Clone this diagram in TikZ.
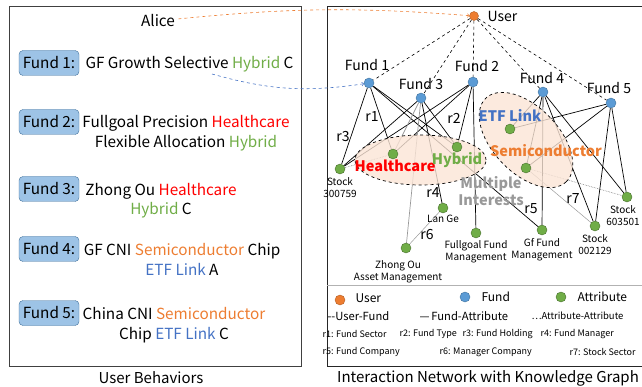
\documentclass[tikz,border=0pt]{standalone}
\usepackage{fontspec}
\setmainfont{Noto Sans CJK SC}
\usetikzlibrary{positioning}

\definecolor{usrorange}{HTML}{ED7D31}
\definecolor{fundblue}{HTML}{5B9BD5}
\definecolor{attrgreen}{HTML}{70AD47}
\definecolor{tagblue}{HTML}{9DC3E6}
\definecolor{tagedge}{HTML}{41719C}
\definecolor{linkblue}{HTML}{4472C4}
\definecolor{peach}{HTML}{FBE5D6}

% coloured key words
\newcommand{\hyw}{\textcolor{attrgreen}{Hybrid}}
\newcommand{\hcw}{\textcolor{red}{Healthcare}}
\newcommand{\scw}{\textcolor{usrorange}{Semiconductor}}
\newcommand{\etfw}{\textcolor{linkblue}{ETF Link}}

\pgfdeclarelayer{edges}
\pgfdeclarelayer{blobs}
\pgfsetlayers{edges,blobs,main}

\begin{document}
\begin{tikzpicture}[x=1pt, y=-1pt,
  bigtxt/.style={font=\fontsize{15.3}{19.5}\selectfont},
  midtxt/.style={font=\fontsize{14}{16}\selectfont},
  keytxt/.style={font=\fontsize{12}{15}\selectfont},
  pairtxt/.style={font=\fontsize{11.2}{14}\selectfont},
  smalltxt/.style={font=\fontsize{10}{12}\selectfont},
  reltxt/.style={font=\fontsize{9}{11}\selectfont},
  grptxt/.style={font=\fontsize{14.5}{17}\selectfont\bfseries},
  fundtag/.style={draw=tagedge, fill=tagblue, rounded corners=4pt, minimum width=60pt, minimum height=25pt, inner sep=1pt, bigtxt},
  userdot/.style={circle, draw=usrorange!75!black, fill=usrorange, minimum size=9pt, inner sep=0pt},
  funddot/.style={circle, draw=tagedge, fill=fundblue, minimum size=10pt, inner sep=0pt},
  attrdot/.style={circle, draw=attrgreen!65!black, fill=attrgreen, minimum size=10pt, inner sep=0pt},
  uf/.style={dashed, line width=0.6pt},
  fa/.style={line width=0.7pt},
  fagray/.style={line width=0.7pt, black!40},
  aa/.style={densely dotted, line width=0.6pt, black!55},
  interest/.style={draw, dashed, line width=0.7pt, fill=peach, fill opacity=0.8},
]
\useasboundingbox (0,0) rectangle (642,387);
\clip (0,0) rectangle (642,387);

% frames
\draw[black!75, line width=0.8pt] (9,6) rectangle (301,366);
\draw[black!85, line width=0.8pt] (327,6) rectangle (662,366);
\draw[black!30, line width=0.6pt] (327,285) -- (662,285);
\node[font=\fontsize{15}{18}\selectfont] (capl) at (151,378) {User Behaviors};
\node[font=\fontsize{15}{18}\selectfont] (capr) at (488,378) {Interaction Network with Knowledge Graph};

% user behaviors
\node[bigtxt] (alice) at (158,21) {Alice};
\foreach \i/\y in {1/63, 2/122, 3/189, 4/249, 5/313}
  \node[fundtag] (tag\i) at (49,\y) {Fund \i:};
\node[bigtxt, anchor=base west] (txt1) at (82,68.5) {GF Growth Selective \hyw{} C};
\node[bigtxt, align=center, anchor=base] (txt2) at (186,147.5) {Fullgoal Precision \hcw\\Flexible Allocation \hyw};
\node[bigtxt, align=center, anchor=base] (txt3) at (161,215) {Zhong Ou \hcw\\\hyw{} C};
\node[bigtxt, align=center, anchor=base] (txt4) at (182,275) {GF CNI \scw{} Chip\\\etfw{} A};
\node[bigtxt, align=center, anchor=base] (txt5) at (174,339) {China CNI \scw\\Chip \etfw{} C};
\coordinate (hyb1) at (212,74);

% user and funds
\node[userdot] (user) at (474,16) {};
\node[midtxt, anchor=west] (luser) at (484,16) {User};
\node[funddot] (f1) at (369,83) {};
\node[funddot] (f3) at (421,98) {};
\node[funddot] (f2) at (473,82) {};
\node[funddot] (f4) at (543,92) {};
\node[funddot] (f5) at (611,103) {};
\node[midtxt] (lf1) at (367,65) {Fund 1};
\node[midtxt] (lf3) at (421,84) {Fund 3};
\node[midtxt] (lf2) at (477,66) {Fund 2};
\node[midtxt] (lf4) at (542,78) {Fund 4};
\node[midtxt] (lf5) at (609,88) {Fund 5};

% attributes
\node[attrdot] (health) at (393,154) {};
\node[attrdot] (hybrid) at (457,147) {};
\node[attrdot] (st759) at (340,169) {};
\node[attrdot] (etf) at (510,129) {};
\node[attrdot] (semi) at (526,168) {};
\node[attrdot] (st501) at (627,197) {};
\node[attrdot] (lange) at (443,208) {};
\node[attrdot] (zhongou) at (406,248) {};
\node[attrdot] (fullgoal) at (476,233) {};
\node[attrdot] (gffund) at (542,230) {};
\node[attrdot] (st129) at (595,226) {};
\node[smalltxt, align=center, anchor=north] (lst759) at (340,174) {Stock\\300759};
\node[smalltxt, align=center, anchor=north] (lst501) at (623,202) {Stock\\603501};
\node[smalltxt, align=center, anchor=north] (lst129) at (595,231) {Stock\\002129};
\node[smalltxt, anchor=north] (llange) at (443,212) {Lan Ge};
\node[smalltxt, align=center, anchor=north] (lzhongou) at (398,257) {Zhong Ou\\Asset Management};
\node[smalltxt, align=center, anchor=north] (lfullgoal) at (476,237) {Fullgoal Fund\\Management};
\node[smalltxt, align=center, anchor=north] (lgffund) at (542,235) {Gf Fund\\Management};

% relation names
\foreach \r/\x/\y in {1/372/117, 2/454/118, 3/343/137, 4/433/193, 5/531/209, 6/427/235, 7/573/199}
  \node[midtxt] (r\r) at (\x,\y) {r\r};

% edges
\begin{pgfonlayer}{edges}
  \foreach \f in {f1,f2,f3,f4,f5}
    \draw[uf] (user) -- (\f);
  \foreach \f/\a in {f1/st759, f1/health, f1/hybrid, f1/gffund,
                     f3/st759, f3/hybrid, f3/lange,
                     f2/st759, f2/health, f2/hybrid, f2/fullgoal,
                     f4/etf, f4/semi, f4/gffund, f4/st129, f4/st501,
                     f5/etf, f5/semi, f5/st129, f5/st501}
    \draw[fa] (\f) -- (\a);
  \draw[fagray] (f3) -- (health);
  \draw[fagray] (f3) -- (zhongou);
  \draw[aa] (st759) -- (health);
  \draw[aa] (semi) -- (st501);
  \draw[black!40, line width=0.5pt] (semi) -- (st129);
  \draw[black!40, line width=0.5pt] (lange) -- (zhongou);
\end{pgfonlayer}

% interest groups
\begin{pgfonlayer}{blobs}
  \draw[interest] (420.5,160) ellipse [x radius=65.5pt, y radius=25pt];
  \draw[interest, rotate around={-46:(526,140)}] (526,140) ellipse [x radius=58pt, y radius=33pt];
\end{pgfonlayer}
\node[grptxt, text=red] (ghealth) at (395,166) {Healthcare};
\node[grptxt, text=attrgreen] (ghybrid) at (457,160) {Hybrid};
\node[grptxt, text=linkblue] (getf) at (510,115) {ETF Link};
\node[grptxt, text=usrorange] (gsemi) at (546,151) {Semiconductor};
\node[grptxt, text=black!40, align=center] (multi) at (491,191) {Multiple\\Interests};

% behaviour links
\draw[uf, usrorange, ->] (alice) to[bend left=5] (user);
\draw[uf, linkblue, ->] (hyb1) to[bend right=12] (f1);

% legend
\node[userdot, minimum size=10pt] (kuser) at (340,300) {};
\node[keytxt, anchor=west] (kuserl) at (352,298) {User};
\node[funddot] (kfund) at (465,297) {};
\node[keytxt, anchor=west] (kfundl) at (478,297) {Fund};
\node[attrdot] (kattr) at (561,297) {};
\node[keytxt, anchor=west] (kattrl) at (574,297) {Attribute};
\node[pairtxt, anchor=west] (kuf) at (324,316) {-{}-User-Fund};
\node[pairtxt, anchor=west] (kfa) at (416,316) {—\,Fund-Attribute};
\node[pairtxt, font=\fontsize{9.5}{12}\selectfont, anchor=west] (kaa) at (528,316) {⋯Attribute-Attribute};
\node[reltxt, anchor=west] (kr1) at (319,334) {r1: Fund Sector};
\node[reltxt, anchor=west] (kr2) at (396,334) {r2: Fund Type};
\node[reltxt, anchor=west] (kr3) at (459,334) {r3: Fund Holding};
\node[reltxt, anchor=west] (kr4) at (537,334) {r4: Fund Manager};
\node[reltxt, anchor=west] (kr5) at (319,352) {r5: Fund Company};
\node[reltxt, anchor=west] (kr6) at (436,352) {r6: Manager Company};
\node[reltxt, anchor=west] (kr7) at (566,352) {r7: Stock Sector};
\end{tikzpicture}
\end{document}
